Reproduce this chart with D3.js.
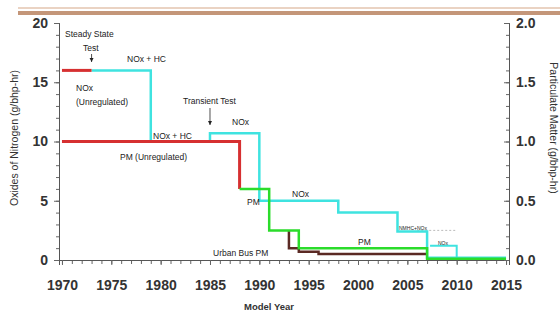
<!DOCTYPE html>
<html><head><meta charset="utf-8">
<script src="https://cdn.jsdelivr.net/npm/d3@7"></script>
<style>body{margin:0;background:#fff}svg{display:block;font-family:"Liberation Sans",Arial,sans-serif}</style>
</head><body><svg id="c" width="560" height="314"></svg>
<script>
// ---- data ----
const noxUnregYears = [1970, 1973];
const noxUnregValues = [16, 16];
const noxStdYears = [1973, 1979, 1985, 1990, 1998, 2004, 2007, 2015];
const noxStdValues = [16, 10, 10.7, 5, 4, 2.4, 0.2, 0.2];
const noxPhaseYears = [2007.3, 2010];
const noxPhaseValues = [1.2, 0.2];
const noxDashYears = [2006, 2010];
const noxDashValues = [2.5, 2.5];
const pmUnregYears = [1970, 1988];
const pmUnregValues = [1.0, 0.6];
const pmStdYears = [1988, 1991, 1994, 2007, 2015];
const pmStdValues = [0.6, 0.25, 0.1, 0.01, 0.01];
const busYears = [1993, 1993, 1994, 1996, 2007];
const busValues = [0.25, 0.1, 0.07, 0.05, 0.05];
const xTicks = [1970, 1975, 1980, 1985, 1990, 1995, 2000, 2005, 2010, 2015];
const yLeftTicks = [0, 5, 10, 15, 20];
const yRightTicks = [0, 0.5, 1.0, 1.5, 2.0];

const svg = d3.select("#c");
const x = d3.scaleLinear().domain([1969.7, 2015.3]).range([59, 509]);
const yL = d3.scaleLinear().domain([0, 20]).range([260, 23]);
const yR = d3.scaleLinear().domain([0, 2]).range([260, 23]);

// top decorative band
svg.append("rect").attr("x", 18).attr("y", 7).attr("width", 542).attr("height", 2).attr("fill", "#ead3c3");
svg.append("rect").attr("x", 18).attr("y", 11).attr("width", 542).attr("height", 4).attr("fill", "#c49679");

// axes
const gx = svg.append("g").attr("transform", "translate(0,260)");
gx.call(d3.axisBottom(x).tickValues(d3.range(1970, 2016)).tickSize(4).tickFormat(""));
gx.append("g").call(d3.axisBottom(x).tickValues(xTicks).tickSize(5).tickFormat(d3.format("d")));
gx.selectAll(".domain").attr("stroke", "#555");
gx.selectAll("line").attr("stroke", "#666");
gx.selectAll("text").attr("font-size", 14).attr("font-weight", "bold").attr("fill", "#333").attr("y", 20);

const gl = svg.append("g").attr("transform", "translate(59,0)");
gl.call(d3.axisLeft(yL).tickValues(d3.range(0, 21)).tickSize(3).tickFormat(""));
gl.append("g").call(d3.axisLeft(yL).tickValues(yLeftTicks).tickSize(5).tickPadding(6).tickFormat(d3.format("d")));
gl.selectAll(".domain").attr("stroke", "#555");
gl.selectAll("line").attr("stroke", "#666");
gl.selectAll("text").attr("font-size", 14).attr("font-weight", "bold").attr("fill", "#333");

const gr = svg.append("g").attr("transform", "translate(509,0)");
gr.call(d3.axisRight(yR).tickValues(d3.range(0, 21).map(d => d / 10)).tickSize(-3).tickFormat(""));
gr.append("g").call(d3.axisRight(yR).tickValues(yRightTicks).tickSize(-5).tickPadding(7).tickFormat(d3.format(".1f")));
gr.selectAll(".domain").attr("stroke", "#555");
gr.selectAll("line").attr("stroke", "#666");
gr.selectAll("text").attr("font-size", 14).attr("font-weight", "bold").attr("fill", "#333");

// axis titles
svg.append("text").attr("transform", "translate(18,138) rotate(-90)").attr("text-anchor", "middle")
  .attr("font-size", 10.5).attr("fill", "#333").text("Oxides of Nitrogen (g/bhp-hr)");
svg.append("text").attr("transform", "translate(550,128) rotate(90)").attr("text-anchor", "middle")
  .attr("font-size", 10.5).attr("fill", "#333").text("Particulate Matter (g/bhp-hr)");
svg.append("text").attr("x", 269).attr("y", 310).attr("text-anchor", "middle")
  .attr("font-size", 9.5).attr("font-weight", "bold").attr("fill", "#333").text("Model Year");

function series(years, vals, yScale) { return years.map((yr, i) => [x(yr), yScale(vals[i])]); }
const step = d3.line().curve(d3.curveStepAfter);
const lin = d3.line();

// lines
svg.append("path").attr("d", lin(series(noxDashYears, noxDashValues, yL))).attr("fill", "none")
  .attr("stroke", "#bbb").attr("stroke-width", 1).attr("stroke-dasharray", "2,2");
svg.append("path").attr("d", step(series(noxStdYears, noxStdValues, yL))).attr("fill", "none")
  .attr("stroke", "#3fe3e0").attr("stroke-width", 2.5);
svg.append("path").attr("d", step(series(noxPhaseYears, noxPhaseValues, yL))).attr("fill", "none")
  .attr("stroke", "#3fe3e0").attr("stroke-width", 2);
svg.append("path").attr("d", step(series(pmUnregYears, pmUnregValues, yR))).attr("fill", "none")
  .attr("stroke", "#d63031").attr("stroke-width", 3);
svg.append("path").attr("d", lin(series(noxUnregYears, noxUnregValues, yL))).attr("fill", "none")
  .attr("stroke", "#d63031").attr("stroke-width", 3);
svg.append("path").attr("d", step(series(busYears, busValues, yR))).attr("fill", "none")
  .attr("stroke", "#5b2a24").attr("stroke-width", 2.5);
svg.append("path").attr("d", step(series(pmStdYears, pmStdValues, yR))).attr("fill", "none")
  .attr("stroke", "#2bdc2b").attr("stroke-width", 2.5);

// arrows
function arrow(yr, y1, y2) {
  const xx = x(yr);
  svg.append("line").attr("x1", xx).attr("x2", xx).attr("y1", y1).attr("y2", y2).attr("stroke", "#222").attr("stroke-width", 0.8);
  svg.append("path").attr("d", `M${xx - 2},${y2 - 4}L${xx + 2},${y2 - 4}L${xx},${y2}Z`).attr("fill", "#222");
}
arrow(1973, 54, 62);
arrow(1985, 108, 125);

// annotations
const notes = [
  [65, 37, "Steady State", "start", 8.5],
  [83, 51, "Test", "start", 8.5],
  [127, 62, "NOx + HC", "start", 8.5],
  [76, 91, "NOx", "start", 8.5],
  [76, 105, "(Unregulated)", "start", 8.5],
  [153, 139, "NOx + HC", "start", 8.5],
  [183, 104, "Transient Test", "start", 8.5],
  [232, 125, "NOx", "start", 8.5],
  [120, 160, "PM (Unregulated)", "start", 8.5],
  [247, 205, "PM", "start", 8.5],
  [292, 197, "NOx", "start", 8.5],
  [358, 245, "PM", "start", 8.5],
  [213, 256, "Urban Bus PM", "start", 8.5],
  [399, 230, "NMHC+NOx", "start", 5],
  [438, 245, "NOx", "start", 5]
];
svg.selectAll("text.note").data(notes).join("text").attr("class", "note")
  .attr("x", d => d[0]).attr("y", d => d[1]).attr("text-anchor", d => d[3])
  .attr("font-size", d => d[4]).attr("fill", "#222").text(d => d[2]);
</script></body></html>
